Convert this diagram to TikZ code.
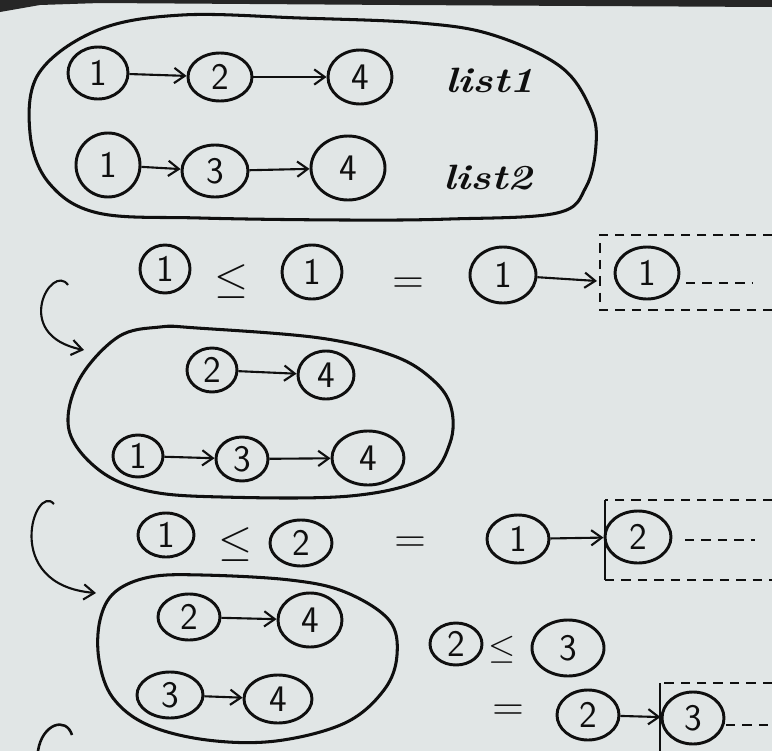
\documentclass[tikz,border=0pt]{standalone}
\usetikzlibrary{shapes.geometric,arrows.meta}
\definecolor{paper}{RGB}{225,230,230}
\definecolor{ink}{RGB}{15,15,15}
\definecolor{edge}{RGB}{38,38,38}
\newcommand{\bigsym}[2][1.5]{\scalebox{#1}{$#2$}}
\begin{document}
\begin{tikzpicture}[x=0.03cm,y=-0.03cm,
  nd/.style={draw=ink, ellipse, line width=2.5pt, inner sep=0pt, text=ink,
             font=\fontsize{32}{32}\selectfont\sffamily},
  rad/.style 2 args={minimum width=#1*0.06cm, minimum height=#2*0.06cm},
  arr/.style={draw=ink, line width=1.8pt, -{Straight Barb[length=9pt,width=13pt,line width=1.8pt]}},
  blob/.style={draw=ink, line width=2.6pt},
  dsh/.style={draw=ink, line width=1.8pt, dash pattern=on 8pt off 6pt},
  thin/.style={draw=ink, line width=1.5pt},
  sym/.style={text=ink, inner sep=0pt, font=\fontsize{24.88}{30}\selectfont},
  lbl/.style={text=ink, inner sep=0pt, font=\fontsize{30}{30}\selectfont\bfseries\itshape}]
\useasboundingbox (0,0) rectangle (772,751);
\fill[paper] (0,0) rectangle (772,751);
\fill[edge] (0,0) -- (772,0) -- (772,7) -- (400,5) -- (100,3) -- (40,5) -- (0,12) -- cycle;

% ---------- first group ----------
\draw[blob] plot[smooth cycle, tension=0.6] coordinates {(182,15) (300,18) (420,23) (493,35) (561,67) (591,110) (596,145) (586,187) (557,213) (450,219) (345,220) (200,218) (98,213) (49,183) (30,133) (39,73) (98,30)};
\node[nd, rad={30}{26}] (a1) at (98,73) {1};
\node[nd, rad={32}{24}] (a2) at (220,77) {2};
\node[nd, rad={32}{27}] (a3) at (360,77) {4};
\node[nd, rad={32}{32}] (b1) at (108,165) {1};
\node[nd, rad={33}{26}] (b2) at (215,171) {3};
\node[nd, rad={37}{32}] (b3) at (348,168) {4};
\draw[arr] (a1) -- (a2);
\draw[arr] (a2) -- (a3);
\draw[arr] (b1) -- (b2);
\draw[arr] (b2) -- (b3);
\node[lbl] (l1) at (490,80) {\scalebox{1.2}[1]{list1}};
\node[lbl] (l2) at (488,178) {\scalebox{1.2}[1]{list2}};

% ---------- second row ----------
\node[nd, rad={25}{24}] (p1) at (165,269) {1};
\node[sym] (le1) at (232,282) {\bigsym{\leq}};
\node[nd, rad={30}{27}] (p2) at (312,272) {1};
\node[sym] (eq1) at (408,286) {\bigsym{=}};
\node[nd, rad={33}{28}] (p3) at (503,275) {1};
\node[nd, rad={32}{26}] (p4) at (647,273) {1};
\coordinate (bx2) at (597,281);
\draw[arr] (p3) -- (bx2);
\draw[dsh] (772,235) -- (600,235) -- (600,310) -- (772,310);
\draw[dsh] (686,283) -- (752,283);

\coordinate (c1s) at (68,285);
\coordinate (c1e) at (84,350);
\draw[arr] (c1s) .. controls (52,262) and (10,335) .. (c1e);

% ---------- second group ----------
\draw[blob] plot[smooth cycle, tension=0.6] coordinates {(197,328) (320,338) (394,356) (433,380) (451,407) (450,443) (425,478) (350,496) (222,497) (148,491) (99,470) (69,430) (79,380) (118,337) (160,327)};
\node[nd, rad={25}{22}] (q1) at (212,370) {2};
\node[nd, rad={28}{24}] (q2) at (326,375) {4};
\node[nd, rad={25}{21}] (q3) at (138,456) {1};
\node[nd, rad={26}{22}] (q4) at (242,459) {3};
\node[nd, rad={36}{27}] (q5) at (368,458) {4};
\draw[arr] (q1) -- (q2);
\draw[arr] (q3) -- (q4);
\draw[arr] (q4) -- (q5);

% ---------- third row ----------
\node[nd, rad={28}{22}] (s1) at (166,535) {1};
\node[sym] (le2) at (236,545) {\bigsym{\leq}};
\node[nd, rad={31}{23}] (s2) at (301,543) {2};
\node[sym] (eq2) at (410,545) {\bigsym{=}};
\node[nd, rad={31}{24}] (s3) at (518,539) {1};
\node[nd, rad={33}{26}] (s4) at (638,537) {2};
\draw[arr] (s3) -- (s4);
\draw[dsh] (772,500) -- (605,500);
\draw[thin] (605,500) -- (605,580);
\draw[dsh] (605,580) -- (772,580);
\draw[dsh] (685,540) -- (755,540);

\coordinate (c2s) at (54,504);
\coordinate (c2e) at (96,593);
\draw[arr] (c2s) .. controls (35,482) and (0,585) .. (c2e);

% ---------- third group ----------
\draw[blob] plot[smooth cycle, tension=0.6] coordinates {(202,575) (290,580) (345,592) (389,620) (397,655) (384,690) (345,723) (276,741) (207,740) (148,725) (113,698) (99,660) (100,620) (115,592) (150,577)};
\node[nd, rad={31}{23}] (t1) at (189,617) {2};
\node[nd, rad={32}{27}] (t2) at (310,620) {4};
\node[nd, rad={33}{23}] (t3) at (170,695) {3};
\node[nd, rad={34}{24}] (t4) at (278,699) {4};
\draw[arr] (t1) -- (t2);
\draw[arr] (t3) -- (t4);

% ---------- last comparison ----------
\node[nd, rad={26}{21}] (u1) at (456,644) {2};
\node[sym] (le3) at (502,650) {\bigsym[1.2]{\leq}};
\node[nd, rad={36}{28}] (u2) at (568,648) {3};
\node[sym] (eq3) at (508,713) {\bigsym{=}};
\node[nd, rad={31}{25}] (v1) at (588,715) {2};
\node[nd, rad={31}{26}] (v2) at (693,718) {3};
\draw[arr] (v1) -- (v2);
\draw[dsh] (772,683) -- (660,683);
\draw[thin] (660,683) -- (660,751);
\draw[dsh] (726,725) -- (772,725);

\coordinate (c3s) at (72,735);
\coordinate (c3e) at (38,751);
\draw[blob, line width=2.2pt] (c3s) .. controls (66,716) and (42,724) .. (c3e);
\end{tikzpicture}
\end{document}
